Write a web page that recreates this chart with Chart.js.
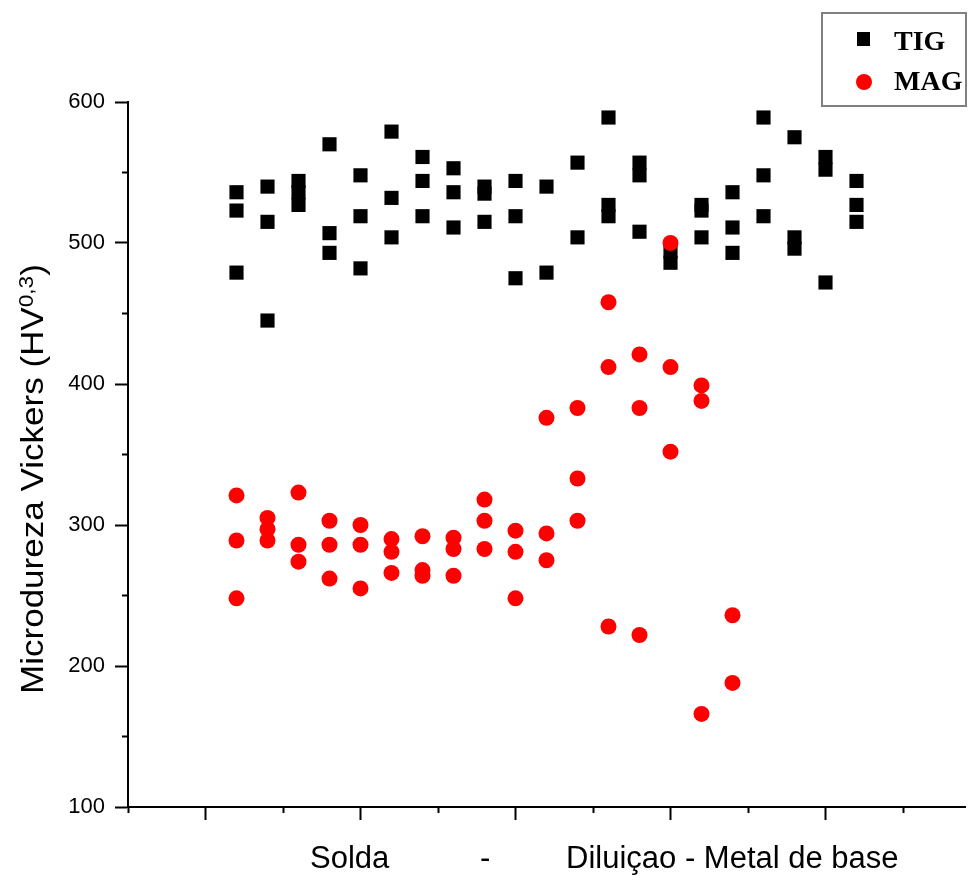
<!DOCTYPE html>
<html>
<head>
<meta charset="utf-8">
<title>Microdureza Vickers - TIG x MAG</title>
<script src="https://cdn.jsdelivr.net/npm/chart.js@4.4.0/dist/chart.umd.min.js"></script>
<style>
    body { margin: 0; background: #fff; }
    #hardnessChart { display: block; }
</style>
</head>
<body>
<canvas id="hardnessChart" width="975" height="875"></canvas>
<script>
// Indentation lines along the sample (weld -> dilution -> base metal)
const positions = [1, 2, 3, 4, 5, 6, 7, 8, 9, 10, 11, 12, 13, 14, 15, 16, 17, 18, 19, 20, 21];

// Hardness readings per line (HV 0,3)
const tigValues = [
    [536, 523, 479], [540, 515, 445], [544, 536, 527], [570, 507, 493],
    [548, 519, 482], [579, 532, 504], [561, 544, 519], [553, 536, 511],
    [540, 535, 515], [544, 519, 475], [540, 479], [557, 504],
    [589, 527, 519], [557, 548, 508], [494, 486], [527, 523, 504],
    [536, 511, 493], [589, 548, 519], [575, 504, 496], [561, 552, 472],
    [544, 527, 515]
];
const magValues = [
    [321, 289, 248], [305, 297, 289], [323, 286, 274], [303, 286, 262],
    [300, 286, 255], [290, 281, 266], [292, 268, 264], [291, 283, 264],
    [318, 303, 283], [296, 281, 248], [376, 294, 275], [383, 333, 303],
    [458, 412, 228], [421, 383, 222], [500, 412, 352], [399, 388, 166],
    [236, 188]
];

const seriesLabels = ['TIG', 'MAG'];
const yMajorTicks = [100, 200, 300, 400, 500, 600];
const yMinorTicks = [150, 250, 350, 450, 550];
const xMajorTicks = [0, 5, 10, 15, 20];
const xMinorTicks = [-2.5, 2.5, 7.5, 12.5, 17.5, 22.5];
const yTitleMain = 'Microdureza Vickers (HV';
const yTitleSup = '0,3';
const yTitleEnd = ')';
const xTitleParts = ['Solda', '-', 'Diluiçao - Metal de base'];

// turn the per-line lists into {x, y} points
const toPoints = (values) => values.flatMap((col, i) => col.map(v => ({ x: positions[i], y: v })));

Chart.defaults.font.family = '"Liberation Sans", Arial, sans-serif';
Chart.defaults.color = '#000';

// legend drawn inside a grey frame at the top right, like the original
const boxLegend = {
    id: 'boxLegend',
    afterDraw(chart) {
        const ctx = chart.ctx;
        ctx.save();
        ctx.strokeStyle = '#808080';
        ctx.lineWidth = 2;
        ctx.strokeRect(822, 13, 144, 93);
        chart.data.datasets.forEach((ds, i) => {
            const my = 39 + i * 43;
            ctx.fillStyle = ds.backgroundColor;
            if (ds.pointStyle === 'rect') {
                ctx.fillRect(857, my - 7, 13, 14);
            } else {
                ctx.beginPath();
                ctx.arc(864, my, 8, 0, Math.PI * 2);
                ctx.fill();
            }
            ctx.fillStyle = '#000';
            ctx.font = 'bold 28px "Liberation Serif", "Times New Roman", serif';
            ctx.textBaseline = 'alphabetic';
            ctx.fillText(ds.label, 894, 50 + i * 40);
        });
        ctx.restore();
    }
};

// axis titles (y one has a superscript, x one is split in parts)
const axisTitles = {
    id: 'axisTitles',
    afterDraw(chart) {
        const ctx = chart.ctx;
        ctx.save();
        ctx.fillStyle = '#000';
        ctx.textBaseline = 'alphabetic';

        ctx.font = '31px "Liberation Sans", Arial, sans-serif';
        const xs = [310, 480, 566];
        xTitleParts.forEach((t, i) => ctx.fillText(t, xs[i], 868));

        ctx.translate(43, 694);
        ctx.rotate(-Math.PI / 2);
        ctx.scale(1.13, 1);
        ctx.font = '31px "Liberation Sans", Arial, sans-serif';
        ctx.fillText(yTitleMain, 0, 0);
        let w = ctx.measureText(yTitleMain).width;
        ctx.font = '20px "Liberation Sans", Arial, sans-serif';
        ctx.fillText(yTitleSup, w, -10);
        w += ctx.measureText(yTitleSup).width;
        ctx.font = '31px "Liberation Sans", Arial, sans-serif';
        ctx.fillText(yTitleEnd, w, 0);
        ctx.restore();
    }
};

const tickGrid = (len) => ({
    drawOnChartArea: false,
    drawTicks: true,
    tickLength: len,
    tickWidth: 2,
    tickColor: '#000'
});

const ctx = document.getElementById('hardnessChart').getContext('2d');
const hardnessChart = new Chart(ctx, {
    type: 'scatter',
    data: {
        datasets: [
            {
                label: seriesLabels[0],
                data: toPoints(tigValues),
                pointStyle: 'rect',
                pointRadius: 10,
                pointBorderWidth: 0,
                backgroundColor: '#000000',
                borderColor: '#000000',
                order: 1,
            },
            {
                label: seriesLabels[1],
                data: toPoints(magValues),
                pointStyle: 'circle',
                pointRadius: 8,
                pointBorderWidth: 0,
                backgroundColor: '#ff0000',
                borderColor: '#ff0000',
                order: 0,
            },
        ],
    },
    options: {
        responsive: false,
        devicePixelRatio: 1,
        animation: false,
        layout: {
            padding: { top: 102, right: 10, bottom: 68, left: 0 },
        },
        plugins: {
            legend: { display: false },
            tooltip: { enabled: false },
        },
        scales: {
            x: {
                type: 'linear',
                position: 'bottom',
                min: -2.5,
                max: 24.5,
                weight: 0,
                afterBuildTicks: (axis) => { axis.ticks = xMajorTicks.map(v => ({ value: v })); },
                afterFit: (axis) => { axis.height = 0; },
                ticks: { display: false },
                grid: tickGrid(13),
                border: { display: true, color: '#000', width: 2 },
            },
            xMinor: {
                type: 'linear',
                position: 'bottom',
                min: -2.5,
                max: 24.5,
                weight: 1,
                afterBuildTicks: (axis) => { axis.ticks = xMinorTicks.map(v => ({ value: v })); },
                afterFit: (axis) => { axis.height = 0; },
                ticks: { display: false },
                grid: tickGrid(6),
                border: { display: false },
            },
            y: {
                type: 'linear',
                position: 'left',
                min: 100,
                max: 600,
                weight: 1,
                afterBuildTicks: (axis) => { axis.ticks = yMajorTicks.map(v => ({ value: v })); },
                afterFit: (axis) => { axis.width = 128; },
                ticks: {
                    font: { size: 22 },
                    color: '#000',
                    padding: 10,
                },
                grid: tickGrid(13),
                border: { display: true, color: '#000', width: 2 },
            },
            yMinor: {
                type: 'linear',
                position: 'left',
                min: 100,
                max: 600,
                weight: 0,
                afterBuildTicks: (axis) => { axis.ticks = yMinorTicks.map(v => ({ value: v })); },
                afterFit: (axis) => { axis.width = 0; },
                ticks: { display: false },
                grid: tickGrid(6),
                border: { display: false },
            },
        },
    },
    plugins: [boxLegend, axisTitles],
});
</script>
</body>
</html>
